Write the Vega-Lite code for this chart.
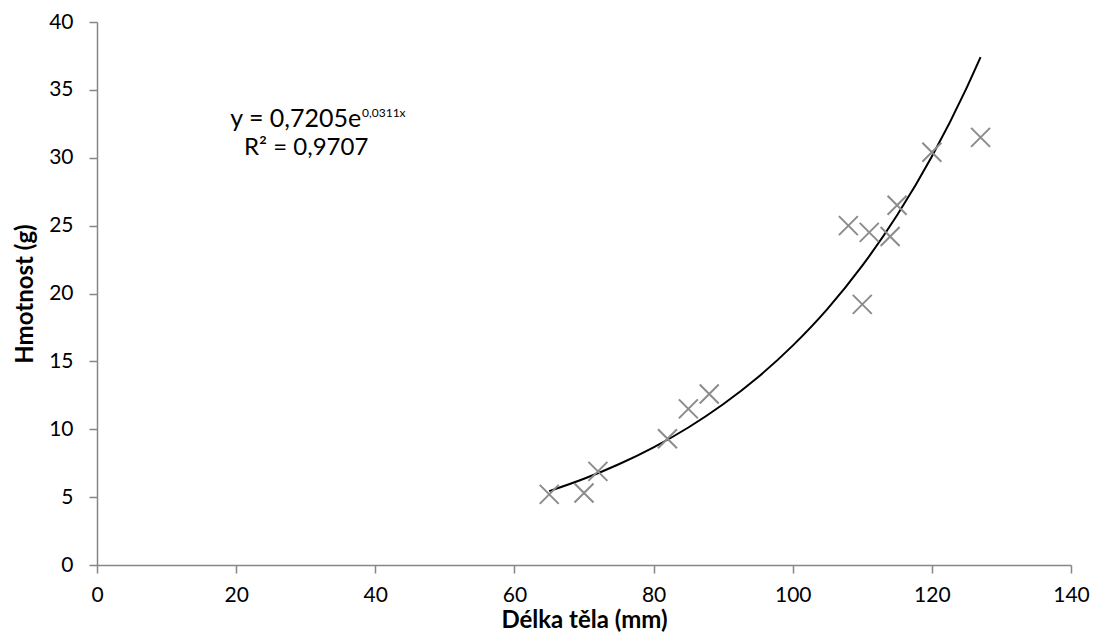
{
  "$schema": "https://vega.github.io/schema/vega-lite/v6.json",
  "width": 974,
  "height": 543,
  "autosize": "none",
  "padding": {"left": 97, "top": 22, "right": 26, "bottom": 77},
  "background": "white",
  "config": {
    "font": "Lato",
    "view": {"stroke": null},
    "axis": {
      "grid": false,
      "domainColor": "#868686",
      "domainWidth": 1.5,
      "tickColor": "#868686",
      "tickWidth": 1.5,
      "tickSize": 8,
      "labelFont": "Lato",
      "labelFontSize": 21,
      "labelColor": "#000000",
      "titleFont": "Lato",
      "titleFontSize": 24,
      "titleFontWeight": "bold",
      "titleColor": "#000000"
    }
  },
  "datasets": {
    "pts": [
      {"len": 65, "mass": 5.2},
      {"len": 70, "mass": 5.3},
      {"len": 72, "mass": 6.9},
      {"len": 82, "mass": 9.3},
      {"len": 85, "mass": 11.5},
      {"len": 88, "mass": 12.6},
      {"len": 108, "mass": 25.0},
      {"len": 110, "mass": 19.2},
      {"len": 111, "mass": 24.5},
      {"len": 114, "mass": 24.2},
      {"len": 115, "mass": 26.5},
      {"len": 120, "mass": 30.4},
      {"len": 127, "mass": 31.5}
    ],
    "trend": [
      {"len": 65, "mass": 5.44},
      {"len": 70, "mass": 6.35},
      {"len": 75, "mass": 7.42},
      {"len": 80, "mass": 8.67},
      {"len": 85, "mass": 10.13},
      {"len": 90, "mass": 11.84},
      {"len": 95, "mass": 13.83},
      {"len": 100, "mass": 16.16},
      {"len": 105, "mass": 18.87},
      {"len": 110, "mass": 22.05},
      {"len": 115, "mass": 25.76},
      {"len": 120, "mass": 30.09},
      {"len": 125, "mass": 35.15},
      {"len": 127, "mass": 37.41}
    ]
  },
  "layer": [
    {
      "data": {"name": "trend"},
      "mark": {"type": "line", "color": "#000000", "strokeWidth": 2, "interpolate": "monotone"},
      "encoding": {
        "x": {
          "field": "len", "type": "quantitative",
          "scale": {"domain": [0, 140], "nice": false, "zero": false},
          "axis": {"values": [0, 20, 40, 60, 80, 100, 120, 140], "title": "Délka těla (mm)", "labelPadding": 11, "titlePadding": 3, "labelFlush": false}
        },
        "y": {
          "field": "mass", "type": "quantitative",
          "scale": {"domain": [0, 40], "nice": false},
          "axis": {"values": [0, 5, 10, 15, 20, 25, 30, 35, 40], "title": "Hmotnost (g)", "labelPadding": 16, "titlePadding": 11, "labelFlush": false}
        }
      }
    },
    {
      "data": {"name": "pts"},
      "mark": {
        "type": "point",
        "shape": "M-1,-1L1,1M-1,1L1,-1",
        "size": 361,
        "filled": false,
        "stroke": "#8c8c8c",
        "strokeWidth": 2,
        "opacity": 1
      },
      "encoding": {
        "x": {"field": "len", "type": "quantitative"},
        "y": {"field": "mass", "type": "quantitative"}
      }
    },
    {
      "data": {"values": [{"x": 37.97, "y": 32.28, "t": "y = 0,7205e"}]},
      "mark": {"type": "text", "align": "right", "baseline": "alphabetic", "fontSize": 25, "font": "Lato", "color": "#000000"},
      "encoding": {
        "x": {"field": "x", "type": "quantitative"},
        "y": {"field": "y", "type": "quantitative"},
        "text": {"field": "t"}
      }
    },
    {
      "data": {"values": [{"x": 38.1, "y": 32.97, "t": "0,0311x"}]},
      "mark": {"type": "text", "align": "left", "baseline": "alphabetic", "fontSize": 12, "font": "Lato", "color": "#000000"},
      "encoding": {
        "x": {"field": "x", "type": "quantitative"},
        "y": {"field": "y", "type": "quantitative"},
        "text": {"field": "t"}
      }
    },
    {
      "data": {"values": [{"x": 30.07, "y": 30.2, "t": "R² = 0,9707"}]},
      "mark": {"type": "text", "align": "center", "baseline": "alphabetic", "fontSize": 24, "font": "Lato", "color": "#000000"},
      "encoding": {
        "x": {"field": "x", "type": "quantitative"},
        "y": {"field": "y", "type": "quantitative"},
        "text": {"field": "t"}
      }
    }
  ]
}
